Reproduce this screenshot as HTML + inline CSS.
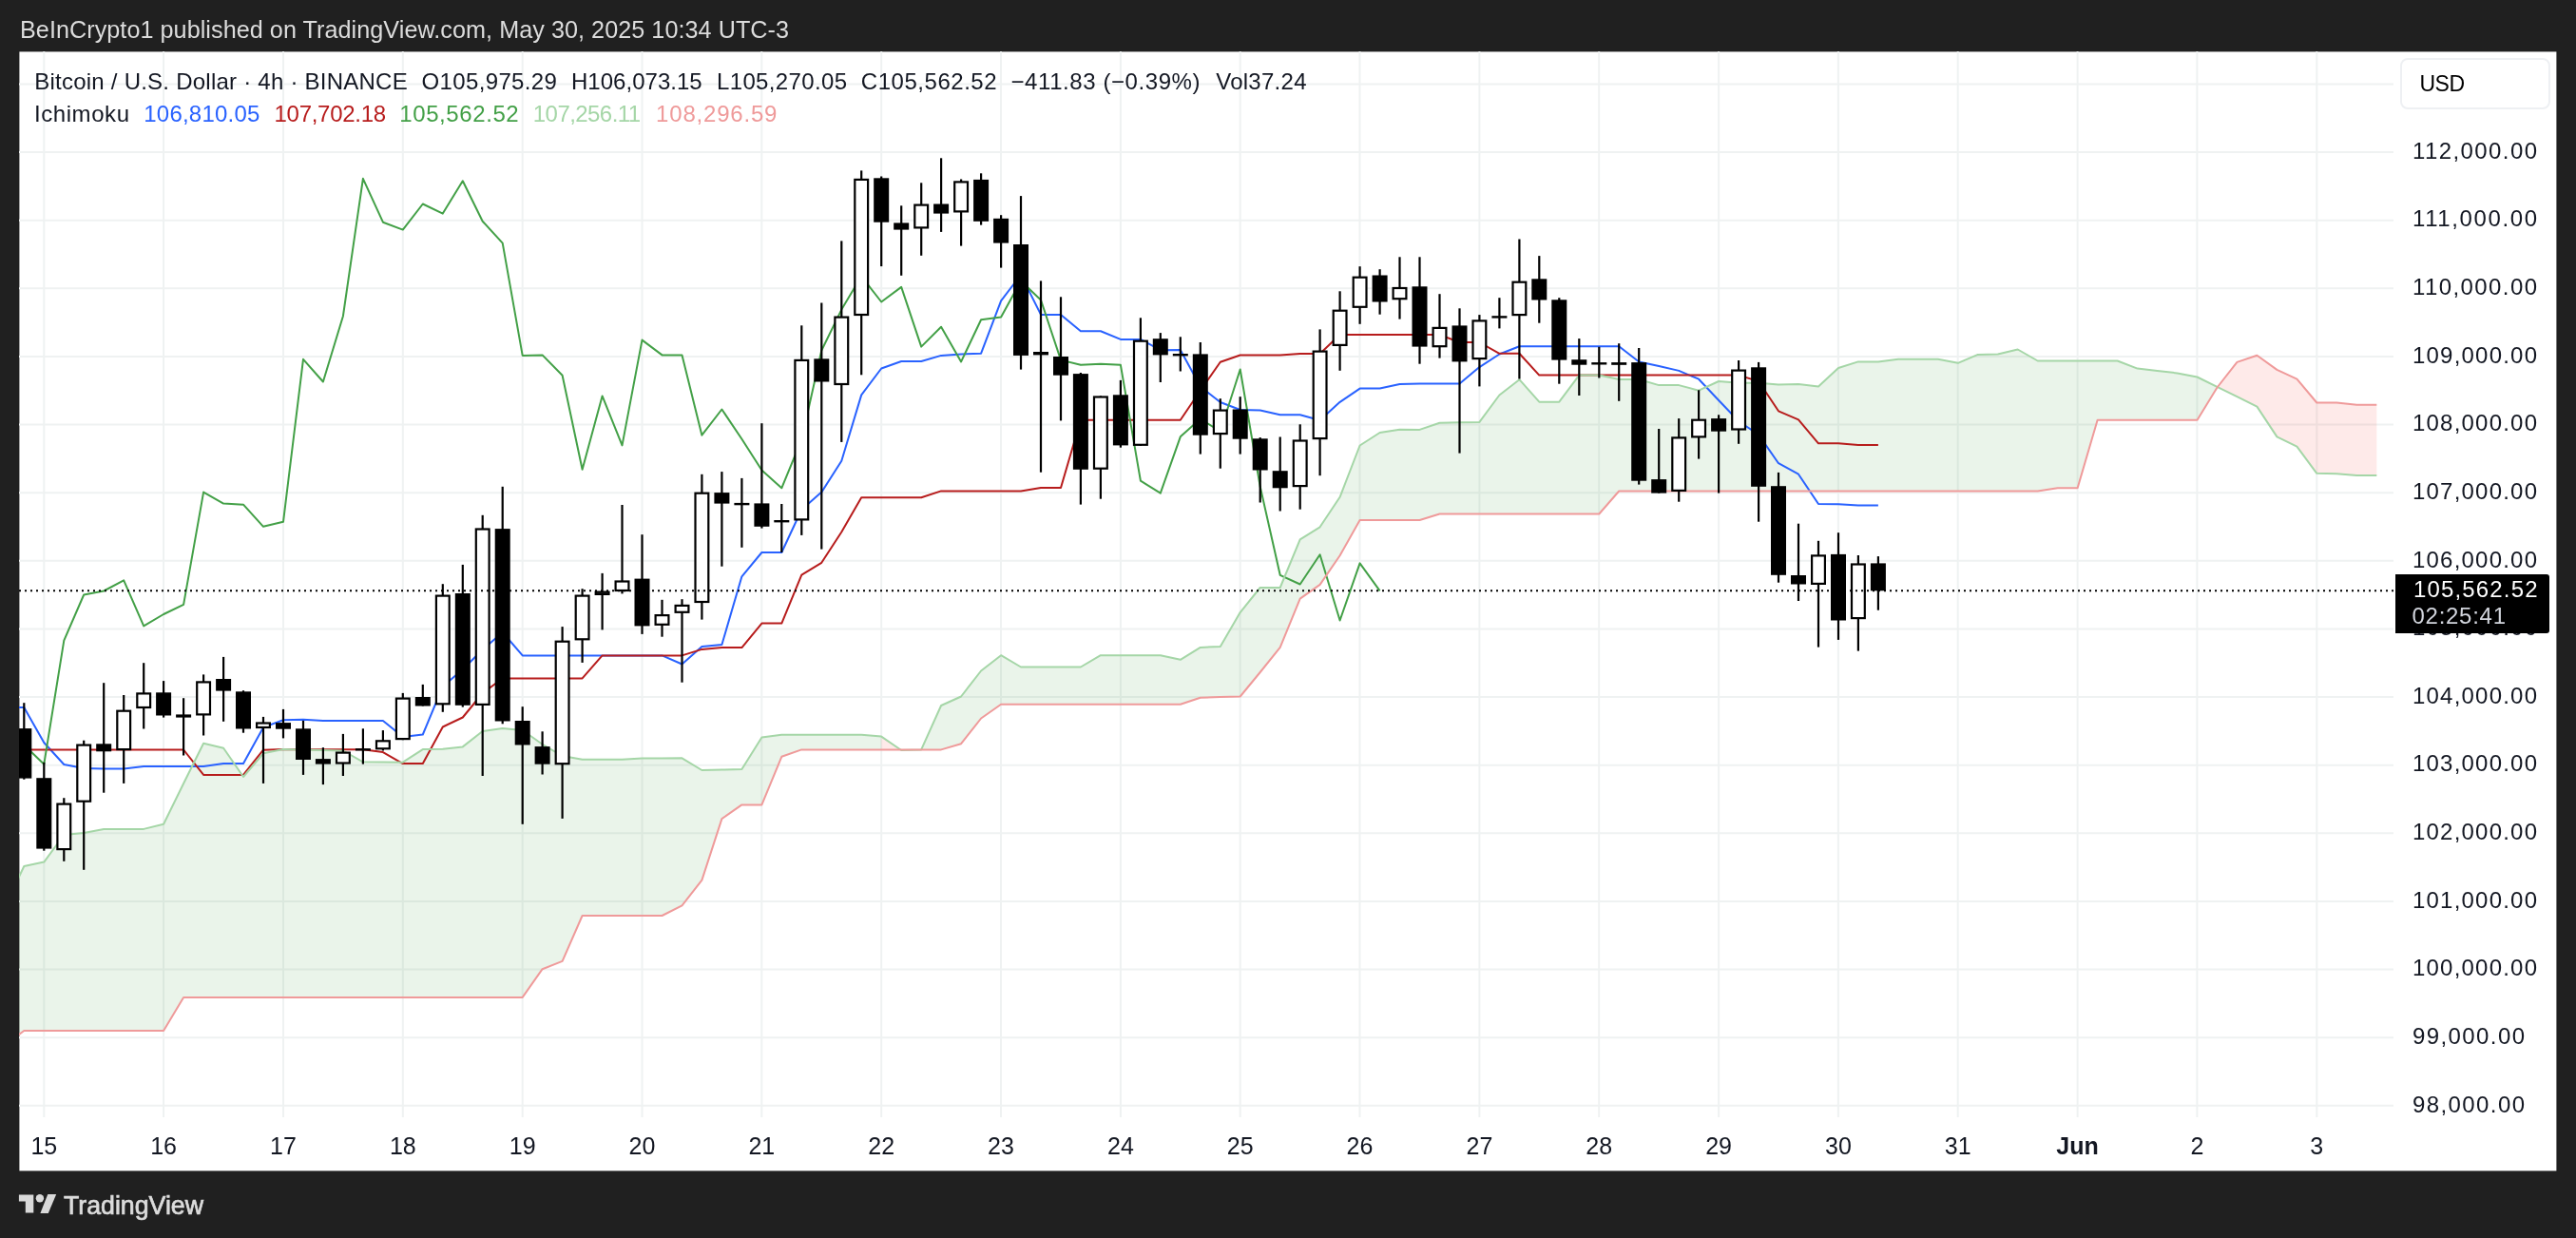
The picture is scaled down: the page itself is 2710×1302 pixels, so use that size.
<!DOCTYPE html><html><head><meta charset="utf-8"><style>html,body{margin:0;padding:0;background:#202020;}body{width:2710px;height:1302px;overflow:hidden;position:relative;}svg{position:absolute;left:0;top:0;display:block;will-change:transform;}text{font-family:"Liberation Sans", sans-serif;}</style></head><body>
<svg width="2710" height="1302" viewBox="0 0 2710 1302">
<rect x="0" y="0" width="2710" height="1302" fill="#202020"/>
<rect x="20.4" y="54.4" width="2669" height="1177" fill="#ffffff"/>
<text x="21" y="40.2" font-size="25.2" fill="#dcdcdc" textLength="809" lengthAdjust="spacing">BeInCrypto1 published on TradingView.com, May 30, 2025 10:34 UTC-3</text>
<defs><clipPath id="plot"><rect x="20" y="54" width="2498" height="1121"/></clipPath></defs>
<g clip-path="url(#plot)">
<path d="M46.3 54V1175M172.1 54V1175M298.0 54V1175M423.8 54V1175M549.7 54V1175M675.5 54V1175M801.3 54V1175M927.2 54V1175M1053.0 54V1175M1178.9 54V1175M1304.7 54V1175M1430.5 54V1175M1556.4 54V1175M1682.2 54V1175M1808.1 54V1175M1933.9 54V1175M2059.7 54V1175M2185.6 54V1175M2311.4 54V1175M2437.3 54V1175M20 1162.8H2518M20 1091.2H2518M20 1019.5H2518M20 947.9H2518M20 876.3H2518M20 804.7H2518M20 733.1H2518M20 661.4H2518M20 589.8H2518M20 518.2H2518M20 446.6H2518M20 375.0H2518M20 303.3H2518M20 231.7H2518M20 160.1H2518M20 88.5H2518" stroke="#eff2f2" stroke-width="2" fill="none"/>
<path d="M4.4 955.0L25.3 911.0L46.3 906.6L67.3 878.0L88.2 876.0L109.2 871.9L130.2 871.9L151.2 871.9L172.1 866.8L193.1 824.0L214.1 781.7L235.1 786.8L256.0 817.0L277.0 792.3L298.0 788.1L319.0 788.5L339.9 789.0L360.9 789.5L381.9 801.3L402.9 801.5L423.8 801.7L444.8 788.1L465.8 787.8L486.8 785.4L507.7 769.0L528.7 766.0L549.7 768.0L570.6 782.8L591.6 795.0L612.6 798.8L633.6 798.8L654.5 798.8L675.5 797.6L696.5 797.4L717.5 797.3L738.4 810.0L759.4 809.5L780.4 809.0L801.4 775.5L822.3 772.7L843.3 772.7L864.3 772.7L885.3 772.7L906.2 772.7L927.2 774.6L927.2 788.4L906.2 788.4L885.3 788.4L864.3 788.4L843.3 788.4L822.3 795.8L801.4 846.4L780.4 846.4L759.4 861.1L738.4 925.6L717.5 952.3L696.5 963.0L675.5 963.0L654.5 963.0L633.6 963.0L612.6 963.0L591.6 1010.9L570.6 1019.2L549.7 1048.9L528.7 1048.9L507.7 1048.9L486.8 1048.9L465.8 1048.9L444.8 1048.9L423.8 1048.9L402.9 1048.9L381.9 1048.9L360.9 1048.9L339.9 1048.9L319.0 1048.9L298.0 1048.9L277.0 1048.9L256.0 1048.9L235.1 1048.9L214.1 1048.9L193.1 1048.9L172.1 1084.0L151.2 1084.0L130.2 1084.0L109.2 1084.0L88.2 1084.0L67.3 1084.0L46.3 1084.0L25.3 1084.0L4.4 1100.0ZM948.2 789.0L969.2 788.4L990.1 742.0L1011.1 732.5L1032.1 705.5L1053.1 689.2L1074.0 701.5L1095.0 701.5L1116.0 701.5L1136.9 701.5L1157.9 689.2L1178.9 689.2L1199.9 689.2L1220.8 689.2L1241.8 693.8L1262.8 680.9L1283.8 680.0L1304.7 644.1L1325.7 618.0L1346.7 618.0L1367.7 567.3L1388.6 554.3L1409.6 522.8L1430.6 468.5L1451.6 455.0L1472.5 451.7L1493.5 451.9L1514.5 444.8L1535.5 444.3L1556.4 443.9L1577.4 415.5L1598.4 399.2L1619.3 422.7L1640.3 422.7L1661.3 394.6L1682.3 394.6L1703.2 399.0L1724.2 399.0L1745.2 405.1L1766.2 405.1L1787.1 410.7L1808.1 401.0L1829.1 402.8L1850.1 402.8L1871.0 404.6L1892.0 403.9L1913.0 406.6L1934.0 387.0L1954.9 380.4L1975.9 380.5L1996.9 377.7L2017.9 377.7L2038.8 377.7L2059.8 381.8L2080.8 372.9L2101.8 372.5L2122.7 367.5L2143.7 379.5L2164.7 379.5L2185.6 379.5L2206.6 379.5L2227.6 379.5L2248.6 387.6L2269.5 390.0L2290.5 392.4L2311.5 396.5L2332.5 406.8L2332.5 407.5L2311.5 441.8L2290.5 441.8L2269.5 441.8L2248.6 441.8L2227.6 441.8L2206.6 441.8L2185.6 513.3L2164.7 513.3L2143.7 516.5L2122.7 516.5L2101.8 516.5L2080.8 516.5L2059.8 516.5L2038.8 516.5L2017.9 516.5L1996.9 516.5L1975.9 516.5L1954.9 516.5L1934.0 516.5L1913.0 516.5L1892.0 516.5L1871.0 516.5L1850.1 516.5L1829.1 516.5L1808.1 516.5L1787.1 516.5L1766.2 516.5L1745.2 516.5L1724.2 516.5L1703.2 516.5L1682.3 540.5L1661.3 540.5L1640.3 540.5L1619.3 540.5L1598.4 540.5L1577.4 540.5L1556.4 540.5L1535.5 540.5L1514.5 540.5L1493.5 547.0L1472.5 547.0L1451.6 547.0L1430.6 547.0L1409.6 584.2L1388.6 614.9L1367.7 629.6L1346.7 680.9L1325.7 707.0L1304.7 732.5L1283.8 733.0L1262.8 733.7L1241.8 740.7L1220.8 740.7L1199.9 740.7L1178.9 740.7L1157.9 740.7L1136.9 740.7L1116.0 740.7L1095.0 740.7L1074.0 740.7L1053.1 740.7L1032.1 755.5L1011.1 782.2L990.1 788.4L969.2 788.4L948.2 788.4Z" fill="#43a047" fill-opacity="0.115"/>
<path d="M927.2 774.6L948.2 789.0L948.2 788.4L927.2 788.4ZM2332.5 406.8L2353.4 417.2L2374.4 427.6L2395.4 459.4L2416.4 469.7L2437.3 497.8L2458.3 498.2L2479.3 499.9L2500.3 499.9L2500.3 425.7L2479.3 425.7L2458.3 423.5L2437.3 423.5L2416.4 398.6L2395.4 388.9L2374.4 373.8L2353.4 380.9L2332.5 407.5Z" fill="#f44336" fill-opacity="0.11"/>
<polyline points="4.4,744.0 25.3,744.0 46.3,781.0 67.3,804.0 88.2,808.0 109.2,808.5 130.2,808.5 151.2,806.0 172.1,806.0 193.1,806.0 214.1,806.0 235.1,803.0 256.0,803.0 277.0,765.0 298.0,757.2 319.0,756.8 339.9,757.9 360.9,757.9 381.9,757.9 402.9,757.9 423.8,775.0 444.8,772.5 465.8,722.0 486.8,704.0 507.7,683.3 528.7,665.0 549.7,689.4 570.6,689.4 591.6,689.4 612.6,689.4 633.6,689.4 654.5,689.4 675.5,689.4 696.5,689.4 717.5,698.5 738.4,680.0 759.4,678.0 780.4,606.3 801.4,581.0 822.3,581.0 843.3,536.0 864.3,517.6 885.3,484.8 906.2,415.4 927.2,387.5 948.2,380.0 969.2,380.0 990.1,373.9 1011.1,372.5 1032.1,371.7 1053.1,316.3 1074.0,289.0 1095.0,330.9 1116.0,330.9 1136.9,348.3 1157.9,348.3 1178.9,356.9 1199.9,356.9 1220.8,368.2 1241.8,367.9 1262.8,406.5 1283.8,423.0 1304.7,431.0 1325.7,431.6 1346.7,436.2 1367.7,436.2 1388.6,442.0 1409.6,422.8 1430.6,408.6 1451.6,408.6 1472.5,404.0 1493.5,403.5 1514.5,403.5 1535.5,403.5 1556.4,386.1 1577.4,372.5 1598.4,364.2 1619.3,364.2 1640.3,364.2 1661.3,364.2 1682.3,364.2 1703.2,364.2 1724.2,380.5 1745.2,385.0 1766.2,389.9 1787.1,398.7 1808.1,421.0 1829.1,443.0 1850.1,457.1 1871.0,487.2 1892.0,498.7 1913.0,530.0 1934.0,530.2 1954.9,531.5 1975.9,531.6" fill="none" stroke="#2962ff" stroke-width="2.0" stroke-linejoin="round" stroke-linecap="butt"/>
<polyline points="4.4,788.5 25.3,788.5 46.3,788.5 67.3,788.5 88.2,788.5 109.2,788.5 130.2,788.5 151.2,788.5 172.1,788.5 193.1,788.5 214.1,814.9 235.1,814.9 256.0,814.9 277.0,788.7 298.0,787.9 319.0,788.2 339.9,788.2 360.9,788.2 381.9,788.2 402.9,791.1 423.8,803.1 444.8,803.1 465.8,764.5 486.8,754.5 507.7,729.0 528.7,713.5 549.7,713.4 570.6,713.4 591.6,713.4 612.6,713.4 633.6,689.4 654.5,689.4 675.5,689.4 696.5,689.4 717.5,689.4 738.4,682.9 759.4,681.1 780.4,681.1 801.4,655.6 822.3,655.6 843.3,604.7 864.3,591.8 885.3,559.5 906.2,523.3 927.2,523.3 948.2,523.3 969.2,523.3 990.1,516.4 1011.1,516.4 1032.1,516.4 1053.1,516.4 1074.0,516.4 1095.0,513.0 1116.0,513.0 1136.9,441.7 1157.9,441.7 1178.9,441.8 1199.9,441.8 1220.8,441.8 1241.8,441.8 1262.8,410.8 1283.8,380.8 1304.7,373.5 1325.7,373.5 1346.7,373.5 1367.7,371.9 1388.6,371.9 1409.6,352.1 1430.6,352.1 1451.6,352.1 1472.5,352.1 1493.5,352.1 1514.5,352.1 1535.5,360.0 1556.4,360.0 1577.4,371.8 1598.4,371.8 1619.3,394.6 1640.3,394.6 1661.3,394.6 1682.3,394.6 1703.2,394.6 1724.2,394.6 1745.2,394.6 1766.2,394.6 1787.1,394.6 1808.1,394.6 1829.1,394.6 1850.1,401.0 1871.0,432.3 1892.0,441.4 1913.0,466.3 1934.0,466.3 1954.9,468.0 1975.9,468.0" fill="none" stroke="#b71c1c" stroke-width="2.0" stroke-linejoin="round" stroke-linecap="butt"/>
<polyline points="4.4,758.5 25.3,783.5 46.3,803.7 67.3,673.6 88.2,625.5 109.2,621.5 130.2,610.4 151.2,658.4 172.1,646.0 193.1,635.8 214.1,517.6 235.1,529.6 256.0,530.7 277.0,553.8 298.0,548.8 319.0,377.8 339.9,401.5 360.9,332.5 381.9,187.8 402.9,233.7 423.8,241.6 444.8,214.5 465.8,224.6 486.8,190.3 507.7,232.8 528.7,255.6 549.7,373.9 570.6,373.4 591.6,394.7 612.6,493.8 633.6,416.4 654.5,468.4 675.5,357.6 696.5,373.4 717.5,373.5 738.4,457.7 759.4,430.5 780.4,461.7 801.4,494.5 822.3,513.3 843.3,462.4 864.3,368.5 885.3,325.6 906.2,290.6 927.2,317.5 948.2,301.9 969.2,364.6 990.1,343.8 1011.1,380.4 1032.1,336.3 1053.1,333.6 1074.0,295.6 1095.0,315.5 1116.0,378.6 1136.9,383.7 1157.9,382.8 1178.9,383.8 1199.9,505.7 1220.8,518.6 1241.8,459.3 1262.8,440.6 1283.8,453.7 1304.7,388.5 1325.7,511.8 1346.7,604.8 1367.7,614.5 1388.6,583.3 1409.6,652.5 1430.6,592.4 1451.6,621.3" fill="none" stroke="#43a047" stroke-width="2.0" stroke-linejoin="round" stroke-linecap="butt"/>
<polyline points="4.4,955.0 25.3,911.0 46.3,906.6 67.3,878.0 88.2,876.0 109.2,871.9 130.2,871.9 151.2,871.9 172.1,866.8 193.1,824.0 214.1,781.7 235.1,786.8 256.0,817.0 277.0,792.3 298.0,788.1 319.0,788.5 339.9,789.0 360.9,789.5 381.9,801.3 402.9,801.5 423.8,801.7 444.8,788.1 465.8,787.8 486.8,785.4 507.7,769.0 528.7,766.0 549.7,768.0 570.6,782.8 591.6,795.0 612.6,798.8 633.6,798.8 654.5,798.8 675.5,797.6 696.5,797.4 717.5,797.3 738.4,810.0 759.4,809.5 780.4,809.0 801.4,775.5 822.3,772.7 843.3,772.7 864.3,772.7 885.3,772.7 906.2,772.7 927.2,774.6 948.2,789.0 969.2,788.4 990.1,742.0 1011.1,732.5 1032.1,705.5 1053.1,689.2 1074.0,701.5 1095.0,701.5 1116.0,701.5 1136.9,701.5 1157.9,689.2 1178.9,689.2 1199.9,689.2 1220.8,689.2 1241.8,693.8 1262.8,680.9 1283.8,680.0 1304.7,644.1 1325.7,618.0 1346.7,618.0 1367.7,567.3 1388.6,554.3 1409.6,522.8 1430.6,468.5 1451.6,455.0 1472.5,451.7 1493.5,451.9 1514.5,444.8 1535.5,444.3 1556.4,443.9 1577.4,415.5 1598.4,399.2 1619.3,422.7 1640.3,422.7 1661.3,394.6 1682.3,394.6 1703.2,399.0 1724.2,399.0 1745.2,405.1 1766.2,405.1 1787.1,410.7 1808.1,401.0 1829.1,402.8 1850.1,402.8 1871.0,404.6 1892.0,403.9 1913.0,406.6 1934.0,387.0 1954.9,380.4 1975.9,380.5 1996.9,377.7 2017.9,377.7 2038.8,377.7 2059.8,381.8 2080.8,372.9 2101.8,372.5 2122.7,367.5 2143.7,379.5 2164.7,379.5 2185.6,379.5 2206.6,379.5 2227.6,379.5 2248.6,387.6 2269.5,390.0 2290.5,392.4 2311.5,396.5 2332.5,406.8 2353.4,417.2 2374.4,427.6 2395.4,459.4 2416.4,469.7 2437.3,497.8 2458.3,498.2 2479.3,499.9 2500.3,499.9" fill="none" stroke="#a5d6a7" stroke-width="2.0" stroke-linejoin="round" stroke-linecap="butt"/>
<polyline points="4.4,1100.0 25.3,1084.0 46.3,1084.0 67.3,1084.0 88.2,1084.0 109.2,1084.0 130.2,1084.0 151.2,1084.0 172.1,1084.0 193.1,1048.9 214.1,1048.9 235.1,1048.9 256.0,1048.9 277.0,1048.9 298.0,1048.9 319.0,1048.9 339.9,1048.9 360.9,1048.9 381.9,1048.9 402.9,1048.9 423.8,1048.9 444.8,1048.9 465.8,1048.9 486.8,1048.9 507.7,1048.9 528.7,1048.9 549.7,1048.9 570.6,1019.2 591.6,1010.9 612.6,963.0 633.6,963.0 654.5,963.0 675.5,963.0 696.5,963.0 717.5,952.3 738.4,925.6 759.4,861.1 780.4,846.4 801.4,846.4 822.3,795.8 843.3,788.4 864.3,788.4 885.3,788.4 906.2,788.4 927.2,788.4 948.2,788.4 969.2,788.4 990.1,788.4 1011.1,782.2 1032.1,755.5 1053.1,740.7 1074.0,740.7 1095.0,740.7 1116.0,740.7 1136.9,740.7 1157.9,740.7 1178.9,740.7 1199.9,740.7 1220.8,740.7 1241.8,740.7 1262.8,733.7 1283.8,733.0 1304.7,732.5 1325.7,707.0 1346.7,680.9 1367.7,629.6 1388.6,614.9 1409.6,584.2 1430.6,547.0 1451.6,547.0 1472.5,547.0 1493.5,547.0 1514.5,540.5 1535.5,540.5 1556.4,540.5 1577.4,540.5 1598.4,540.5 1619.3,540.5 1640.3,540.5 1661.3,540.5 1682.3,540.5 1703.2,516.5 1724.2,516.5 1745.2,516.5 1766.2,516.5 1787.1,516.5 1808.1,516.5 1829.1,516.5 1850.1,516.5 1871.0,516.5 1892.0,516.5 1913.0,516.5 1934.0,516.5 1954.9,516.5 1975.9,516.5 1996.9,516.5 2017.9,516.5 2038.8,516.5 2059.8,516.5 2080.8,516.5 2101.8,516.5 2122.7,516.5 2143.7,516.5 2164.7,513.3 2185.6,513.3 2206.6,441.8 2227.6,441.8 2248.6,441.8 2269.5,441.8 2290.5,441.8 2311.5,441.8 2332.5,407.5 2353.4,380.9 2374.4,373.8 2395.4,388.9 2416.4,398.6 2437.3,423.5 2458.3,423.5 2479.3,425.7 2500.3,425.7" fill="none" stroke="#ef9a9a" stroke-width="2.0" stroke-linejoin="round" stroke-linecap="butt"/>
<rect x="24.2" y="739.2" width="2.2" height="80.5" fill="#000"/><rect x="17.3" y="766.1" width="16.0" height="52.5" fill="#000"/><rect x="45.2" y="801.8" width="2.2" height="92.9" fill="#000"/><rect x="38.3" y="818.2" width="16.0" height="74.4" fill="#000"/><rect x="66.2" y="839.2" width="2.2" height="66.6" fill="#000"/><rect x="60.4" y="845.6" width="13.8" height="47.5" fill="#fff" stroke="#000" stroke-width="2.2"/><rect x="87.1" y="778.7" width="2.2" height="136.1" fill="#000"/><rect x="81.3" y="783.6" width="13.8" height="59.1" fill="#fff" stroke="#000" stroke-width="2.2"/><rect x="108.1" y="718.2" width="2.2" height="115.5" fill="#000"/><rect x="101.2" y="782.3" width="16.0" height="8.0" fill="#000"/><rect x="129.1" y="731.0" width="2.2" height="92.9" fill="#000"/><rect x="123.3" y="747.7" width="13.8" height="40.4" fill="#fff" stroke="#000" stroke-width="2.2"/><rect x="150.1" y="697.2" width="2.2" height="69.3" fill="#000"/><rect x="144.3" y="729.4" width="13.8" height="14.6" fill="#fff" stroke="#000" stroke-width="2.2"/><rect x="171.0" y="716.1" width="2.2" height="38.5" fill="#000"/><rect x="164.1" y="728.3" width="16.0" height="24.2" fill="#000"/><rect x="192.0" y="734.2" width="2.2" height="60.3" fill="#000"/><rect x="185.1" y="751.4" width="16.0" height="3.2" fill="#000"/><rect x="213.0" y="709.4" width="2.2" height="64.1" fill="#000"/><rect x="207.2" y="717.4" width="13.8" height="34.0" fill="#fff" stroke="#000" stroke-width="2.2"/><rect x="234.0" y="690.9" width="2.2" height="67.9" fill="#000"/><rect x="227.1" y="714.0" width="16.0" height="12.6" fill="#000"/><rect x="254.9" y="726.2" width="2.2" height="44.5" fill="#000"/><rect x="248.0" y="727.3" width="16.0" height="39.2" fill="#000"/><rect x="275.9" y="753.9" width="2.2" height="70.0" fill="#000"/><rect x="270.1" y="760.5" width="13.8" height="4.5" fill="#fff" stroke="#000" stroke-width="2.2"/><rect x="296.9" y="745.9" width="2.2" height="30.5" fill="#000"/><rect x="290.0" y="760.1" width="16.0" height="6.6" fill="#000"/><rect x="317.9" y="757.9" width="2.2" height="57.0" fill="#000"/><rect x="311.0" y="766.3" width="16.0" height="32.7" fill="#000"/><rect x="338.8" y="786.2" width="2.2" height="38.9" fill="#000"/><rect x="331.9" y="798.1" width="16.0" height="5.5" fill="#000"/><rect x="359.8" y="771.9" width="2.2" height="44.1" fill="#000"/><rect x="354.0" y="791.6" width="13.8" height="10.9" fill="#fff" stroke="#000" stroke-width="2.2"/><rect x="380.8" y="766.3" width="2.2" height="37.3" fill="#000"/><rect x="373.9" y="787.1" width="16.0" height="2.4" fill="#000"/><rect x="401.8" y="768.1" width="2.2" height="21.4" fill="#000"/><rect x="396.0" y="779.3" width="13.8" height="8.0" fill="#fff" stroke="#000" stroke-width="2.2"/><rect x="422.7" y="728.9" width="2.2" height="49.3" fill="#000"/><rect x="416.9" y="734.6" width="13.8" height="42.5" fill="#fff" stroke="#000" stroke-width="2.2"/><rect x="443.7" y="719.9" width="2.2" height="22.6" fill="#000"/><rect x="436.8" y="733.0" width="16.0" height="9.5" fill="#000"/><rect x="464.7" y="614.2" width="2.2" height="134.6" fill="#000"/><rect x="458.9" y="626.6" width="13.8" height="113.7" fill="#fff" stroke="#000" stroke-width="2.2"/><rect x="485.7" y="593.9" width="2.2" height="149.7" fill="#000"/><rect x="478.8" y="624.0" width="16.0" height="117.8" fill="#000"/><rect x="506.6" y="541.8" width="2.2" height="274.2" fill="#000"/><rect x="500.8" y="556.5" width="13.8" height="184.4" fill="#fff" stroke="#000" stroke-width="2.2"/><rect x="527.6" y="511.8" width="2.2" height="249.5" fill="#000"/><rect x="520.7" y="556.1" width="16.0" height="202.4" fill="#000"/><rect x="548.6" y="743.2" width="2.2" height="123.6" fill="#000"/><rect x="541.7" y="758.0" width="16.0" height="25.5" fill="#000"/><rect x="569.5" y="769.3" width="2.2" height="45.2" fill="#000"/><rect x="562.6" y="785.1" width="16.0" height="18.6" fill="#000"/><rect x="590.5" y="659.1" width="2.2" height="201.8" fill="#000"/><rect x="584.7" y="674.7" width="13.8" height="128.5" fill="#fff" stroke="#000" stroke-width="2.2"/><rect x="611.5" y="619.2" width="2.2" height="77.7" fill="#000"/><rect x="605.7" y="626.6" width="13.8" height="45.7" fill="#fff" stroke="#000" stroke-width="2.2"/><rect x="632.5" y="602.9" width="2.2" height="59.5" fill="#000"/><rect x="626.7" y="622.6" width="13.8" height="2.3" fill="#fff" stroke="#000" stroke-width="2.2"/><rect x="653.4" y="531.0" width="2.2" height="93.4" fill="#000"/><rect x="647.6" y="611.5" width="13.8" height="9.5" fill="#fff" stroke="#000" stroke-width="2.2"/><rect x="674.4" y="562.2" width="2.2" height="104.7" fill="#000"/><rect x="667.5" y="608.6" width="16.0" height="49.8" fill="#000"/><rect x="695.4" y="630.8" width="2.2" height="38.9" fill="#000"/><rect x="689.6" y="647.1" width="13.8" height="9.7" fill="#fff" stroke="#000" stroke-width="2.2"/><rect x="716.4" y="630.2" width="2.2" height="87.5" fill="#000"/><rect x="710.6" y="636.9" width="13.8" height="6.9" fill="#fff" stroke="#000" stroke-width="2.2"/><rect x="737.3" y="498.8" width="2.2" height="152.8" fill="#000"/><rect x="731.5" y="518.7" width="13.8" height="114.3" fill="#fff" stroke="#000" stroke-width="2.2"/><rect x="758.3" y="496.1" width="2.2" height="99.6" fill="#000"/><rect x="751.4" y="518.1" width="16.0" height="11.5" fill="#000"/><rect x="779.3" y="502.9" width="2.2" height="72.9" fill="#000"/><rect x="772.4" y="528.9" width="16.0" height="2.4" fill="#000"/><rect x="800.3" y="445.2" width="2.2" height="110.4" fill="#000"/><rect x="793.4" y="529.4" width="16.0" height="24.4" fill="#000"/><rect x="821.2" y="530.0" width="2.2" height="51.0" fill="#000"/><rect x="814.3" y="547.0" width="16.0" height="2.4" fill="#000"/><rect x="842.2" y="342.3" width="2.2" height="220.6" fill="#000"/><rect x="836.4" y="378.9" width="13.8" height="167.5" fill="#fff" stroke="#000" stroke-width="2.2"/><rect x="863.2" y="318.5" width="2.2" height="259.1" fill="#000"/><rect x="856.3" y="377.3" width="16.0" height="24.2" fill="#000"/><rect x="884.2" y="253.4" width="2.2" height="211.5" fill="#000"/><rect x="878.4" y="333.6" width="13.8" height="70.4" fill="#fff" stroke="#000" stroke-width="2.2"/><rect x="905.1" y="179.4" width="2.2" height="214.9" fill="#000"/><rect x="899.3" y="188.9" width="13.8" height="142.1" fill="#fff" stroke="#000" stroke-width="2.2"/><rect x="926.1" y="185.5" width="2.2" height="94.6" fill="#000"/><rect x="919.2" y="187.3" width="16.0" height="46.4" fill="#000"/><rect x="947.1" y="216.3" width="2.2" height="73.5" fill="#000"/><rect x="940.2" y="234.4" width="16.0" height="7.2" fill="#000"/><rect x="968.1" y="192.3" width="2.2" height="76.5" fill="#000"/><rect x="962.3" y="215.6" width="13.8" height="23.8" fill="#fff" stroke="#000" stroke-width="2.2"/><rect x="989.0" y="166.3" width="2.2" height="77.6" fill="#000"/><rect x="982.1" y="214.5" width="16.0" height="10.1" fill="#000"/><rect x="1010.0" y="188.5" width="2.2" height="70.1" fill="#000"/><rect x="1004.2" y="191.4" width="13.8" height="31.0" fill="#fff" stroke="#000" stroke-width="2.2"/><rect x="1031.0" y="182.3" width="2.2" height="54.3" fill="#000"/><rect x="1024.1" y="188.9" width="16.0" height="43.9" fill="#000"/><rect x="1052.0" y="226.2" width="2.2" height="55.4" fill="#000"/><rect x="1045.1" y="229.8" width="16.0" height="25.8" fill="#000"/><rect x="1072.9" y="206.1" width="2.2" height="182.5" fill="#000"/><rect x="1066.0" y="257.0" width="16.0" height="116.9" fill="#000"/><rect x="1093.9" y="295.4" width="2.2" height="201.3" fill="#000"/><rect x="1087.0" y="370.0" width="16.0" height="3.4" fill="#000"/><rect x="1114.9" y="312.3" width="2.2" height="130.1" fill="#000"/><rect x="1108.0" y="375.0" width="16.0" height="19.7" fill="#000"/><rect x="1135.8" y="392.0" width="2.2" height="138.6" fill="#000"/><rect x="1128.9" y="393.1" width="16.0" height="100.7" fill="#000"/><rect x="1156.8" y="416.4" width="2.2" height="108.3" fill="#000"/><rect x="1151.0" y="417.5" width="13.8" height="75.2" fill="#fff" stroke="#000" stroke-width="2.2"/><rect x="1177.8" y="399.9" width="2.2" height="70.8" fill="#000"/><rect x="1170.9" y="415.3" width="16.0" height="53.1" fill="#000"/><rect x="1198.8" y="334.3" width="2.2" height="134.6" fill="#000"/><rect x="1193.0" y="358.7" width="13.8" height="109.1" fill="#fff" stroke="#000" stroke-width="2.2"/><rect x="1219.7" y="350.1" width="2.2" height="51.9" fill="#000"/><rect x="1212.8" y="356.2" width="16.0" height="17.2" fill="#000"/><rect x="1240.7" y="354.3" width="2.2" height="36.2" fill="#000"/><rect x="1233.8" y="372.0" width="16.0" height="2.4" fill="#000"/><rect x="1261.7" y="360.0" width="2.2" height="117.6" fill="#000"/><rect x="1254.8" y="372.4" width="16.0" height="85.3" fill="#000"/><rect x="1282.7" y="419.2" width="2.2" height="73.5" fill="#000"/><rect x="1276.9" y="431.6" width="13.8" height="24.5" fill="#fff" stroke="#000" stroke-width="2.2"/><rect x="1303.6" y="417.2" width="2.2" height="60.4" fill="#000"/><rect x="1296.7" y="430.5" width="16.0" height="31.2" fill="#000"/><rect x="1324.6" y="460.1" width="2.2" height="68.4" fill="#000"/><rect x="1317.7" y="461.3" width="16.0" height="33.2" fill="#000"/><rect x="1345.6" y="459.5" width="2.2" height="78.0" fill="#000"/><rect x="1338.7" y="495.2" width="16.0" height="18.1" fill="#000"/><rect x="1366.6" y="446.3" width="2.2" height="89.4" fill="#000"/><rect x="1360.8" y="463.5" width="13.8" height="47.6" fill="#fff" stroke="#000" stroke-width="2.2"/><rect x="1387.5" y="346.4" width="2.2" height="153.8" fill="#000"/><rect x="1381.7" y="369.6" width="13.8" height="91.5" fill="#fff" stroke="#000" stroke-width="2.2"/><rect x="1408.5" y="306.3" width="2.2" height="83.5" fill="#000"/><rect x="1402.7" y="326.7" width="13.8" height="36.2" fill="#fff" stroke="#000" stroke-width="2.2"/><rect x="1429.5" y="280.2" width="2.2" height="60.6" fill="#000"/><rect x="1423.7" y="291.7" width="13.8" height="31.1" fill="#fff" stroke="#000" stroke-width="2.2"/><rect x="1450.5" y="283.2" width="2.2" height="47.5" fill="#000"/><rect x="1443.6" y="289.5" width="16.0" height="28.0" fill="#000"/><rect x="1471.4" y="270.3" width="2.2" height="65.3" fill="#000"/><rect x="1465.6" y="303.0" width="13.8" height="11.2" fill="#fff" stroke="#000" stroke-width="2.2"/><rect x="1492.4" y="270.3" width="2.2" height="112.4" fill="#000"/><rect x="1485.5" y="301.3" width="16.0" height="63.3" fill="#000"/><rect x="1513.4" y="309.2" width="2.2" height="67.4" fill="#000"/><rect x="1507.6" y="344.9" width="13.8" height="19.3" fill="#fff" stroke="#000" stroke-width="2.2"/><rect x="1534.4" y="324.3" width="2.2" height="152.3" fill="#000"/><rect x="1527.5" y="342.4" width="16.0" height="38.0" fill="#000"/><rect x="1555.3" y="331.1" width="2.2" height="75.3" fill="#000"/><rect x="1549.5" y="337.4" width="13.8" height="39.7" fill="#fff" stroke="#000" stroke-width="2.2"/><rect x="1576.3" y="313.2" width="2.2" height="32.2" fill="#000"/><rect x="1569.4" y="332.2" width="16.0" height="2.4" fill="#000"/><rect x="1597.3" y="251.5" width="2.2" height="147.0" fill="#000"/><rect x="1591.5" y="296.7" width="13.8" height="34.4" fill="#fff" stroke="#000" stroke-width="2.2"/><rect x="1618.2" y="269.1" width="2.2" height="70.6" fill="#000"/><rect x="1611.3" y="293.3" width="16.0" height="22.2" fill="#000"/><rect x="1639.2" y="313.2" width="2.2" height="90.5" fill="#000"/><rect x="1632.3" y="315.3" width="16.0" height="63.3" fill="#000"/><rect x="1660.2" y="356.1" width="2.2" height="59.9" fill="#000"/><rect x="1653.3" y="378.2" width="16.0" height="5.5" fill="#000"/><rect x="1681.2" y="364.8" width="2.2" height="32.7" fill="#000"/><rect x="1674.3" y="381.1" width="16.0" height="2.4" fill="#000"/><rect x="1702.1" y="361.2" width="2.2" height="60.6" fill="#000"/><rect x="1695.2" y="381.1" width="16.0" height="2.7" fill="#000"/><rect x="1723.1" y="366.0" width="2.2" height="143.6" fill="#000"/><rect x="1716.2" y="381.1" width="16.0" height="124.6" fill="#000"/><rect x="1744.1" y="451.0" width="2.2" height="67.6" fill="#000"/><rect x="1737.2" y="504.1" width="16.0" height="14.5" fill="#000"/><rect x="1765.1" y="440.1" width="2.2" height="87.6" fill="#000"/><rect x="1759.3" y="460.4" width="13.8" height="55.5" fill="#fff" stroke="#000" stroke-width="2.2"/><rect x="1786.0" y="410.3" width="2.2" height="72.3" fill="#000"/><rect x="1780.2" y="441.7" width="13.8" height="17.7" fill="#fff" stroke="#000" stroke-width="2.2"/><rect x="1807.0" y="436.3" width="2.2" height="82.3" fill="#000"/><rect x="1800.1" y="440.1" width="16.0" height="13.6" fill="#000"/><rect x="1828.0" y="379.0" width="2.2" height="87.8" fill="#000"/><rect x="1822.2" y="389.6" width="13.8" height="61.9" fill="#fff" stroke="#000" stroke-width="2.2"/><rect x="1849.0" y="380.9" width="2.2" height="167.8" fill="#000"/><rect x="1842.1" y="386.3" width="16.0" height="125.5" fill="#000"/><rect x="1869.9" y="496.9" width="2.2" height="115.8" fill="#000"/><rect x="1863.0" y="511.2" width="16.0" height="93.6" fill="#000"/><rect x="1890.9" y="550.7" width="2.2" height="81.3" fill="#000"/><rect x="1884.0" y="605.0" width="16.0" height="9.5" fill="#000"/><rect x="1911.9" y="568.8" width="2.2" height="111.8" fill="#000"/><rect x="1906.1" y="584.4" width="13.8" height="29.5" fill="#fff" stroke="#000" stroke-width="2.2"/><rect x="1932.9" y="560.2" width="2.2" height="112.7" fill="#000"/><rect x="1926.0" y="582.9" width="16.0" height="69.6" fill="#000"/><rect x="1953.8" y="584.0" width="2.2" height="100.6" fill="#000"/><rect x="1948.0" y="593.5" width="13.8" height="56.6" fill="#fff" stroke="#000" stroke-width="2.2"/><rect x="1974.8" y="585.1" width="2.2" height="56.6" fill="#000"/><rect x="1967.9" y="592.4" width="16.0" height="28.9" fill="#000"/>
<line x1="20" y1="621.2" x2="2518" y2="621.2" stroke="#000" stroke-width="2" stroke-dasharray="2 4"/>
</g>
<text x="2538" y="1169.5" font-size="24" fill="#131722" textLength="118" lengthAdjust="spacing">98,000.00</text>
<text x="2538" y="1097.9" font-size="24" fill="#131722" textLength="118" lengthAdjust="spacing">99,000.00</text>
<text x="2538" y="1026.2" font-size="24" fill="#131722" textLength="131" lengthAdjust="spacing">100,000.00</text>
<text x="2538" y="954.6" font-size="24" fill="#131722" textLength="131" lengthAdjust="spacing">101,000.00</text>
<text x="2538" y="883.0" font-size="24" fill="#131722" textLength="131" lengthAdjust="spacing">102,000.00</text>
<text x="2538" y="811.4" font-size="24" fill="#131722" textLength="131" lengthAdjust="spacing">103,000.00</text>
<text x="2538" y="739.8" font-size="24" fill="#131722" textLength="131" lengthAdjust="spacing">104,000.00</text>
<text x="2538" y="596.5" font-size="24" fill="#131722" textLength="131" lengthAdjust="spacing">106,000.00</text>
<text x="2538" y="524.9" font-size="24" fill="#131722" textLength="131" lengthAdjust="spacing">107,000.00</text>
<text x="2538" y="453.3" font-size="24" fill="#131722" textLength="131" lengthAdjust="spacing">108,000.00</text>
<text x="2538" y="381.7" font-size="24" fill="#131722" textLength="131" lengthAdjust="spacing">109,000.00</text>
<text x="2538" y="310.0" font-size="24" fill="#131722" textLength="131" lengthAdjust="spacing">110,000.00</text>
<text x="2538" y="238.4" font-size="24" fill="#131722" textLength="131" lengthAdjust="spacing">111,000.00</text>
<text x="2538" y="166.8" font-size="24" fill="#131722" textLength="131" lengthAdjust="spacing">112,000.00</text>
<text x="2538" y="668.1" font-size="24" fill="#131722" textLength="131" lengthAdjust="spacing">105,000.00</text>
<path d="M2520 604H2679a3 3 0 0 1 3 3V663a3 3 0 0 1 -3 3H2520Z" fill="#000"/>
<text x="2539" y="628" font-size="24" fill="#ffffff" textLength="130.5" lengthAdjust="spacing">105,562.52</text>
<text x="2537.5" y="656" font-size="24" fill="#d1d4dc" textLength="98.5" lengthAdjust="spacing">02:25:41</text>
<rect x="2526" y="62" width="156" height="52" rx="7" fill="#fff" stroke="#eef0f3" stroke-width="2"/>
<text x="2545.5" y="96" font-size="23" fill="#000" textLength="47.5" lengthAdjust="spacing">USD</text>
<text x="46.3" y="1214" font-size="25" fill="#131722" text-anchor="middle">15</text>
<text x="172.1" y="1214" font-size="25" fill="#131722" text-anchor="middle">16</text>
<text x="298.0" y="1214" font-size="25" fill="#131722" text-anchor="middle">17</text>
<text x="423.8" y="1214" font-size="25" fill="#131722" text-anchor="middle">18</text>
<text x="549.7" y="1214" font-size="25" fill="#131722" text-anchor="middle">19</text>
<text x="675.5" y="1214" font-size="25" fill="#131722" text-anchor="middle">20</text>
<text x="801.3" y="1214" font-size="25" fill="#131722" text-anchor="middle">21</text>
<text x="927.2" y="1214" font-size="25" fill="#131722" text-anchor="middle">22</text>
<text x="1053.0" y="1214" font-size="25" fill="#131722" text-anchor="middle">23</text>
<text x="1178.9" y="1214" font-size="25" fill="#131722" text-anchor="middle">24</text>
<text x="1304.7" y="1214" font-size="25" fill="#131722" text-anchor="middle">25</text>
<text x="1430.5" y="1214" font-size="25" fill="#131722" text-anchor="middle">26</text>
<text x="1556.4" y="1214" font-size="25" fill="#131722" text-anchor="middle">27</text>
<text x="1682.2" y="1214" font-size="25" fill="#131722" text-anchor="middle">28</text>
<text x="1808.1" y="1214" font-size="25" fill="#131722" text-anchor="middle">29</text>
<text x="1933.9" y="1214" font-size="25" fill="#131722" text-anchor="middle">30</text>
<text x="2059.7" y="1214" font-size="25" fill="#131722" text-anchor="middle">31</text>
<text x="2185.6" y="1214" font-size="25" fill="#131722" text-anchor="middle" font-weight="bold">Jun</text>
<text x="2311.4" y="1214" font-size="25" fill="#131722" text-anchor="middle">2</text>
<text x="2437.3" y="1214" font-size="25" fill="#131722" text-anchor="middle">3</text>
<text x="36.2" y="94" font-size="24" fill="#131722" textLength="392.5" lengthAdjust="spacing">Bitcoin / U.S. Dollar · 4h · BINANCE</text>
<text x="443.5" y="94" font-size="24" fill="#131722" textLength="142.4" lengthAdjust="spacing">O105,975.29</text>
<text x="601" y="94" font-size="24" fill="#131722" textLength="137.7" lengthAdjust="spacing">H106,073.15</text>
<text x="754" y="94" font-size="24" fill="#131722" textLength="137" lengthAdjust="spacing">L105,270.05</text>
<text x="905.8" y="94" font-size="24" fill="#131722" textLength="142.8" lengthAdjust="spacing">C105,562.52</text>
<text x="1063.5" y="94" font-size="24" fill="#131722" textLength="199" lengthAdjust="spacing">−411.83 (−0.39%)</text>
<text x="1279.2" y="94" font-size="24" fill="#131722" textLength="95.3" lengthAdjust="spacing">Vol37.24</text>
<text x="36" y="127.6" font-size="24" fill="#131722" textLength="100" lengthAdjust="spacing">Ichimoku</text>
<text x="151.3" y="127.6" font-size="24" fill="#2962ff" textLength="122" lengthAdjust="spacing">106,810.05</text>
<text x="288.5" y="127.6" font-size="24" fill="#b71c1c" textLength="117.6" lengthAdjust="spacing">107,702.18</text>
<text x="420.3" y="127.6" font-size="24" fill="#43a047" textLength="125.4" lengthAdjust="spacing">105,562.52</text>
<text x="560.8" y="127.6" font-size="24" fill="#a5d6a7" textLength="113.3" lengthAdjust="spacing">107,256.11</text>
<text x="690.1" y="127.6" font-size="24" fill="#ef9a9a" textLength="127.3" lengthAdjust="spacing">108,296.59</text>
<path d="M19.9 1256.4H35.3V1275.4H26.8V1263.6H19.9Z" fill="#d9d9d9"/>
<circle cx="41.9" cy="1260.3" r="4.2" fill="#d9d9d9"/>
<path d="M50.3 1256H59.2L50.8 1275.9H42.4Z" fill="#d9d9d9"/>
<text x="67" y="1277.4" font-size="27" fill="#dcdcdc" stroke="#dcdcdc" stroke-width="0.7" textLength="147" lengthAdjust="spacingAndGlyphs">TradingView</text>
</svg></body></html>
